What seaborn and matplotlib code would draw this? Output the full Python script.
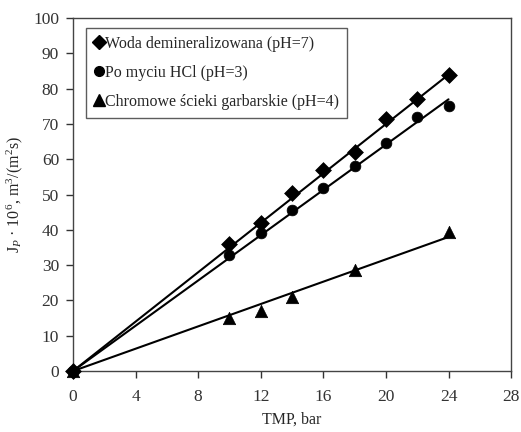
import numpy as np
import pandas as pd
import seaborn as sns
import matplotlib.pyplot as plt
from matplotlib.lines import Line2D

# data
tmp_woda = [0, 10, 12, 14, 16, 18, 20, 22, 24]
jp_woda = [0, 36, 42, 50.5, 57, 62, 71.5, 77, 84]
tmp_hcl = [0, 10, 12, 14, 16, 18, 20, 22, 24]
jp_hcl = [0, 33, 39, 45.5, 52, 58, 64.5, 72, 75]
tmp_chrom = [0, 10, 12, 14, 18, 24]
jp_chrom = [0, 15, 17, 21, 28.5, 39.5]

# fitted lines, start and end values
fit_x = [0, 24]
fit_woda = [0, 84]
fit_hcl = [0, 77]
fit_chrom = [0, 38]

labels = ["Woda demineralizowana (pH=7)", "Po myciu HCl (pH=3)",
          "Chromowe ścieki garbarskie (pH=4)"]
markers = ["D", "o", "^"]

pts = pd.concat([
    pd.DataFrame({"TMP": tmp_woda, "Jp": jp_woda, "seria": labels[0]}),
    pd.DataFrame({"TMP": tmp_hcl, "Jp": jp_hcl, "seria": labels[1]}),
    pd.DataFrame({"TMP": tmp_chrom, "Jp": jp_chrom, "seria": labels[2]}),
])
fits = pd.concat([
    pd.DataFrame({"TMP": fit_x, "Jp": fit_woda, "seria": labels[0]}),
    pd.DataFrame({"TMP": fit_x, "Jp": fit_hcl, "seria": labels[1]}),
    pd.DataFrame({"TMP": fit_x, "Jp": fit_chrom, "seria": labels[2]}),
])

sns.set_style("ticks")
plt.rcParams["font.family"] = ["Liberation Serif", "DejaVu Serif"]
plt.rcParams["mathtext.fontset"] = "custom"
plt.rcParams["mathtext.rm"] = "Liberation Serif"
plt.rcParams["mathtext.it"] = "Liberation Serif:italic"

fig, ax = plt.subplots(figsize=(5.21, 4.32), dpi=100)
fig.subplots_adjust(left=0.14, right=0.981, top=0.958, bottom=0.141)

black = {l: "black" for l in labels}
sns.lineplot(data=fits, x="TMP", y="Jp", hue="seria", palette=black,
             lw=1.5, legend=False, ax=ax)
sizes = {labels[0]: 65, labels[1]: 60, labels[2]: 80}
for lab, m in zip(labels, markers):
    sub = pts[pts["seria"] == lab]
    sns.scatterplot(data=sub, x="TMP", y="Jp", color="black", marker=m,
                    s=sizes[lab], edgecolor="black", linewidth=0.5,
                    legend=False, ax=ax, zorder=3, clip_on=False)

ax.set_xlim(0, 28)
ax.set_ylim(0, 100)
ax.set_xticks(np.arange(0, 29, 4))
ax.set_yticks(np.arange(0, 101, 10))
ax.tick_params(direction="out", length=5, width=1, labelsize=12.5,
               colors="#333333", pad=5)
ax.tick_params(axis="x", pad=8)
for s in ax.spines.values():
    s.set_color("#444444")
    s.set_linewidth(1)
ax.set_xlabel("TMP, bar", fontsize=11.5, labelpad=5)
ax.set_ylabel(r"J$_P$ · 10$^6$, m$^3$/(m$^2$s)", fontsize=11.5, labelpad=6)

handles = [Line2D([], [], color="black", marker=m, linestyle="none",
                  markersize=7 if m != "^" else 8) for m in markers]
leg = ax.legend(handles, labels, loc="upper left", bbox_to_anchor=(0.03, 0.972),
                frameon=True, fancybox=False, fontsize=11.5, handlelength=0.6,
                handletextpad=0.1, borderpad=0.5, labelspacing=0.8,
                borderaxespad=0)
leg.get_frame().set_edgecolor("#333333")
leg.get_frame().set_linewidth(1)

fig.savefig("out.png", dpi=100)
